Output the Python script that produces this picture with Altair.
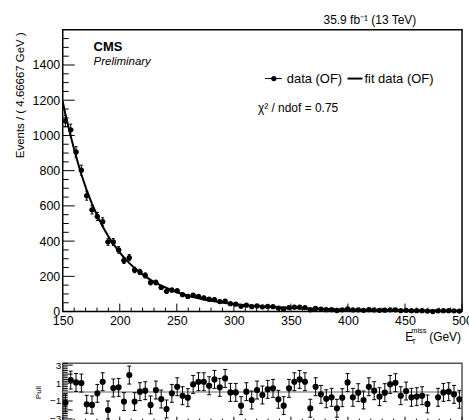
import math
import altair as alt
import pandas as pd

X_MIN, X_MAX, N_BINS = 150.0, 500.0, 75
BIN_W = (X_MAX - X_MIN) / N_BINS

# events per bin
counts = [1082, 1032, 906, 803, 658, 578, 540, 510, 396, 395,
          350, 290, 306, 236, 225, 205, 165, 165, 137, 115,
          122, 118, 96, 86, 93, 86, 78, 70, 68, 57,
          59, 45, 42, 30, 36, 28, 32, 27, 29, 28,
          20, 15, 23, 25, 25, 23, 10, 18, 14, 11,
          11, 6, 10, 15, 9, 10, 7, 11, 9, 7,
          8, 10, 10, 6, 7, 5, 5, 5, 3, 0,
          4, 5, 5, 4, 3]

# pull per bin (None = outside the pull panel)
pulls = [-1.2, 1.33, 1.07, 1.0, -1.37, -1.44, -0.15, 1.15, -2.0, 0.45,
         0.52, -1.07, 1.89, -1.07, 0.04, 0.15, -1.44, 0.22, -0.78, -1.89,
         -0.15, 0.59, -0.41, -0.63, 0.85, 1.15, 1.15, 0.7, 1.41, 0.52,
         1.52, -0.04, -0.04, -1.52, 0.04, -0.89, 0.22, -0.33, 0.3, 0.41,
         -0.81, -1.52, 0.41, 1.15, 1.41, 1.15, -1.81, 0.59, -0.26, -0.75,
         -0.59, -1.81, -0.63, 1.07, -0.59, -0.07, -0.89, 0.59, 0.15, -0.52,
         -0.07, 0.85, 1.04, -0.41, 0.11, -0.59, -0.52, -0.41, -1.33, None,
         -0.59, -0.04, 0.04, -0.26, -0.81]

# fit curve: value at 150, at every bin centre, and at 500
fit_vals = [1193,
            1120, 995, 880, 778, 690, 612, 543, 483, 430, 384,
            343, 307, 275, 247, 222, 200, 180, 163, 147, 134,
            121, 110, 100, 91, 83, 76, 69, 63, 58, 53,
            49, 45, 42, 39, 36, 33.5, 31, 29, 27, 25.5,
            24, 22.5, 21, 20, 19, 18, 17, 16, 15, 14.2,
            13.5, 12.8, 12.1, 11.5, 11, 10.4, 9.9, 9.4, 9, 8.6,
            8.2, 7.8, 7.5, 7.2, 6.9, 6.6, 6.3, 6, 5.8, 5.6,
            5.4, 5.2, 5, 4.8, 4.6,
            4.5]

x_major = [150, 200, 250, 300, 350, 400, 450, 500]
x_minor = [160, 170, 180, 190, 210, 220, 230, 240, 260, 270, 280, 290,
           310, 320, 330, 340, 360, 370, 380, 390, 410, 420, 430, 440,
           460, 470, 480, 490]
y_major = [0, 200, 400, 600, 800, 1000, 1200, 1400]
y_minor = [50, 100, 150, 250, 300, 350, 450, 500, 550, 650, 700, 750,
           850, 900, 950, 1050, 1100, 1150, 1250, 1300, 1350, 1450, 1500, 1550]
p_major = [-3, -2, -1, 0, 1, 2, 3]
p_minor = [-2.8, -2.6, -2.4, -2.2, -1.8, -1.6, -1.4, -1.2, -0.8, -0.6, -0.4, -0.2,
           0.2, 0.4, 0.6, 0.8, 1.2, 1.4, 1.6, 1.8, 2.2, 2.4, 2.6, 2.8, 3.2, -3.2]

centers = [X_MIN + BIN_W * (i + 0.5) for i in range(N_BINS)]
errs_hi = [math.sqrt(n) if n > 0 else 1.84 for n in counts]
errs_lo = [math.sqrt(n) for n in counts]
df = pd.DataFrame({
    "x": centers,
    "lo": [c - BIN_W / 2 for c in centers],
    "hi": [c + BIN_W / 2 for c in centers],
    "n": counts,
    "ylo": [n - e for n, e in zip(counts, errs_lo)],
    "yhi": [n + e for n, e in zip(counts, errs_hi)],
})
fit_df = pd.DataFrame({"x": [X_MIN] + centers + [X_MAX], "y": fit_vals})
pdf = pd.DataFrame({"x": centers, "p": pulls}).dropna()
pdf["plo"] = pdf["p"] - 1
pdf["phi"] = pdf["p"] + 1

FONT = "Liberation Sans"
W, H = 401, 283
PW, PH = 401, 57.6

xs = alt.Scale(domain=[X_MIN, X_MAX], nice=False, zero=False)
ys = alt.Scale(domain=[0, 1600], nice=False, zero=False)
ps = alt.Scale(domain=[-3.2, 3.2], nice=False, zero=False)

xaxis = alt.Axis(values=x_major, format="d", ticks=False, tickSize=0, domain=False,
                 grid=False, labelFontSize=12.5, labelPadding=3, labelFlush=False,
                 labelColor="black", title=None, labelFont=FONT)
yaxis = alt.Axis(values=y_major, format="d", ticks=False, tickSize=0, domain=False,
                 grid=False, labelFontSize=12.5, labelPadding=3, labelColor="black",
                 labelFont=FONT,
                 title="Events / ( 4.66667 GeV )", titleFontSize=11.5,
                 titleFontWeight="normal", titleColor="black", titleFont=FONT,
                 titleAngle=270, titleAlign="right", titleBaseline="middle",
                 titleX=-42, titleY=2)
pxaxis = alt.Axis(values=x_major, ticks=False, tickSize=0, domain=False, grid=False,
                  labels=False, title=None)
pyaxis = alt.Axis(values=p_major, format="d", ticks=False, tickSize=0, domain=False,
                  grid=False, labelFontSize=10, labelPadding=2, labelColor="black",
                  labelFont=FONT, labelFlush=False,
                  title="Pull", titleFontSize=8, titleFontWeight="normal",
                  titleColor="black", titleFont=FONT, titleAngle=270,
                  titleAlign="center", titleBaseline="middle", titleX=-24, titleY=PH / 2)


def X(f):
    return alt.X(f, type="quantitative", scale=xs, axis=xaxis)


def Y(f):
    return alt.Y(f, type="quantitative", scale=ys, axis=yaxis)


def PX(f):
    return alt.X(f, type="quantitative", scale=xs, axis=pxaxis)


def PY(f):
    return alt.Y(f, type="quantitative", scale=ps, axis=pyaxis)


one = pd.DataFrame({"a": [0]})
base = alt.Chart(df)

# white hairline at the page corner: pins the layout origin (plot area at 62, 28)
anchor = alt.Chart(one).mark_rule(color="white", strokeWidth=1).encode(
    x=alt.value(-61.5), x2=alt.value(-60.5), y=alt.value(-27.5))

fit_line = alt.Chart(fit_df).mark_line(color="black", strokeWidth=2, clip=True).encode(
    x=X("x"), y=Y("y"))
vbars = base.mark_rule(color="black", strokeWidth=1).encode(
    x=X("x"), y=Y("ylo"), y2="yhi")
hbars = base.mark_rule(color="black", strokeWidth=1).encode(
    x=X("lo"), x2="hi", y=Y("n"))
cap_hi = base.mark_rule(color="black", strokeWidth=1, xOffset=-1.5, x2Offset=1.5).encode(
    x=X("x"), x2="x", y=Y("yhi"))
cap_lo = base.mark_rule(color="black", strokeWidth=1, xOffset=-1.5, x2Offset=1.5).encode(
    x=X("x"), x2="x", y=Y("ylo"))
points = base.mark_circle(color="black", size=28, opacity=1).encode(x=X("x"), y=Y("n"))

xt_major = alt.Chart(pd.DataFrame({"v": x_major})).mark_rule(color="black", strokeWidth=1).encode(
    x=X("v"), y=alt.value(H), y2=alt.value(H - 8))
xt_minor = alt.Chart(pd.DataFrame({"v": x_minor})).mark_rule(color="black", strokeWidth=1).encode(
    x=X("v"), y=alt.value(H), y2=alt.value(H - 4))
yt_major = alt.Chart(pd.DataFrame({"v": y_major})).mark_rule(color="black", strokeWidth=1).encode(
    y=Y("v"), x=alt.value(0), x2=alt.value(12))
yt_minor = alt.Chart(pd.DataFrame({"v": y_minor})).mark_rule(color="black", strokeWidth=1).encode(
    y=Y("v"), x=alt.value(0), x2=alt.value(6))


def txt(t, x, y, size, **kw):
    return alt.Chart(one).mark_text(text=t, font=FONT, fontSize=size, color="black",
                                    baseline="middle", **kw).encode(
        x=alt.value(x), y=alt.value(y))


cms = txt("CMS", 31, 17, 13, align="left", fontWeight="bold")
prelim = txt("Preliminary", 31, 32, 11.5, align="left", fontStyle="italic")
lumi = txt("35.9 fb\u207b\u00b9 (13 TeV)", 355, -10, 12, align="right")
chi2 = txt("\u03c7\u00b2 / ndof = 0.75", 196, 79, 12, align="left")
leg_data_line = alt.Chart(one).mark_rule(color="black", strokeWidth=1).encode(
    x=alt.value(203), x2=alt.value(220), y=alt.value(49))
leg_data_pt = alt.Chart(one).mark_circle(color="black", size=28, opacity=1).encode(
    x=alt.value(212), y=alt.value(49))
leg_data_txt = txt("data (OF)", 225, 49, 13, align="left")
leg_fit_line = alt.Chart(one).mark_rule(color="black", strokeWidth=2).encode(
    x=alt.value(286), x2=alt.value(301), y=alt.value(49))
leg_fit_txt = txt("fit data (OF)", 303, 49, 13, align="left")
xt_E = txt("E", 344, 309, 12, align="left")
xt_miss = txt("miss", 350, 303, 7.5, align="left")
xt_T = txt("T", 350.5, 314, 7, align="left")
xt_gev = txt("(GeV)", 368, 309, 12, align="left")

main = alt.layer(
    anchor,
    xt_minor, xt_major, yt_minor, yt_major,
    fit_line, hbars, vbars, cap_hi, cap_lo, points,
    cms, prelim, lumi, chi2,
    leg_data_line, leg_data_pt, leg_data_txt, leg_fit_line, leg_fit_txt,
    xt_E, xt_miss, xt_T, xt_gev,
).properties(width=W, height=H, view=alt.ViewBackground(stroke="black", strokeWidth=1.5))

pbase = alt.Chart(pdf)
zero = alt.Chart(one).mark_rule(color="#999999", strokeWidth=1.5).encode(y=PY("a"))
p_bars = pbase.mark_rule(color="black", strokeWidth=1, clip=True).encode(
    x=PX("x"), y=PY("plo"), y2="phi")
p_cap_hi = pbase.mark_rule(color="black", strokeWidth=1, xOffset=-2, x2Offset=2, clip=True).encode(
    x=PX("x"), x2="x", y=PY("phi"))
p_cap_lo = pbase.mark_rule(color="black", strokeWidth=1, xOffset=-2, x2Offset=2, clip=True).encode(
    x=PX("x"), x2="x", y=PY("plo"))
p_pts = pbase.mark_circle(color="black", size=38, opacity=1, clip=True).encode(
    x=PX("x"), y=PY("p"))
pxt_major = alt.Chart(pd.DataFrame({"v": x_major})).mark_rule(color="black", strokeWidth=1).encode(
    x=PX("v"), y=alt.value(PH), y2=alt.value(PH - 4))
pxt_minor = alt.Chart(pd.DataFrame({"v": x_minor})).mark_rule(color="black", strokeWidth=1).encode(
    x=PX("v"), y=alt.value(PH), y2=alt.value(PH - 2))
pyt_major = alt.Chart(pd.DataFrame({"v": p_major})).mark_rule(color="black", strokeWidth=1).encode(
    y=PY("v"), x=alt.value(0), x2=alt.value(10))
pyt_minor = alt.Chart(pd.DataFrame({"v": p_minor})).mark_rule(color="black", strokeWidth=1).encode(
    y=PY("v"), x=alt.value(0), x2=alt.value(5))

pull = alt.layer(
    pxt_minor, pxt_major, pyt_minor, pyt_major,
    zero, p_bars, p_cap_hi, p_cap_lo, p_pts,
).properties(width=PW, height=PH, view=alt.ViewBackground(stroke="#555555", strokeWidth=1.5))

# the page is cut at 469 x 420, as in the original picture
chart = alt.vconcat(main, pull, spacing=52, bounds="flush",
                    padding={"left": 0, "top": 0, "right": -5, "bottom": -6}
                    ).configure(font=FONT, background="white")

chart.save("out.html", embed_options={"renderer": "svg", "actions": False})
